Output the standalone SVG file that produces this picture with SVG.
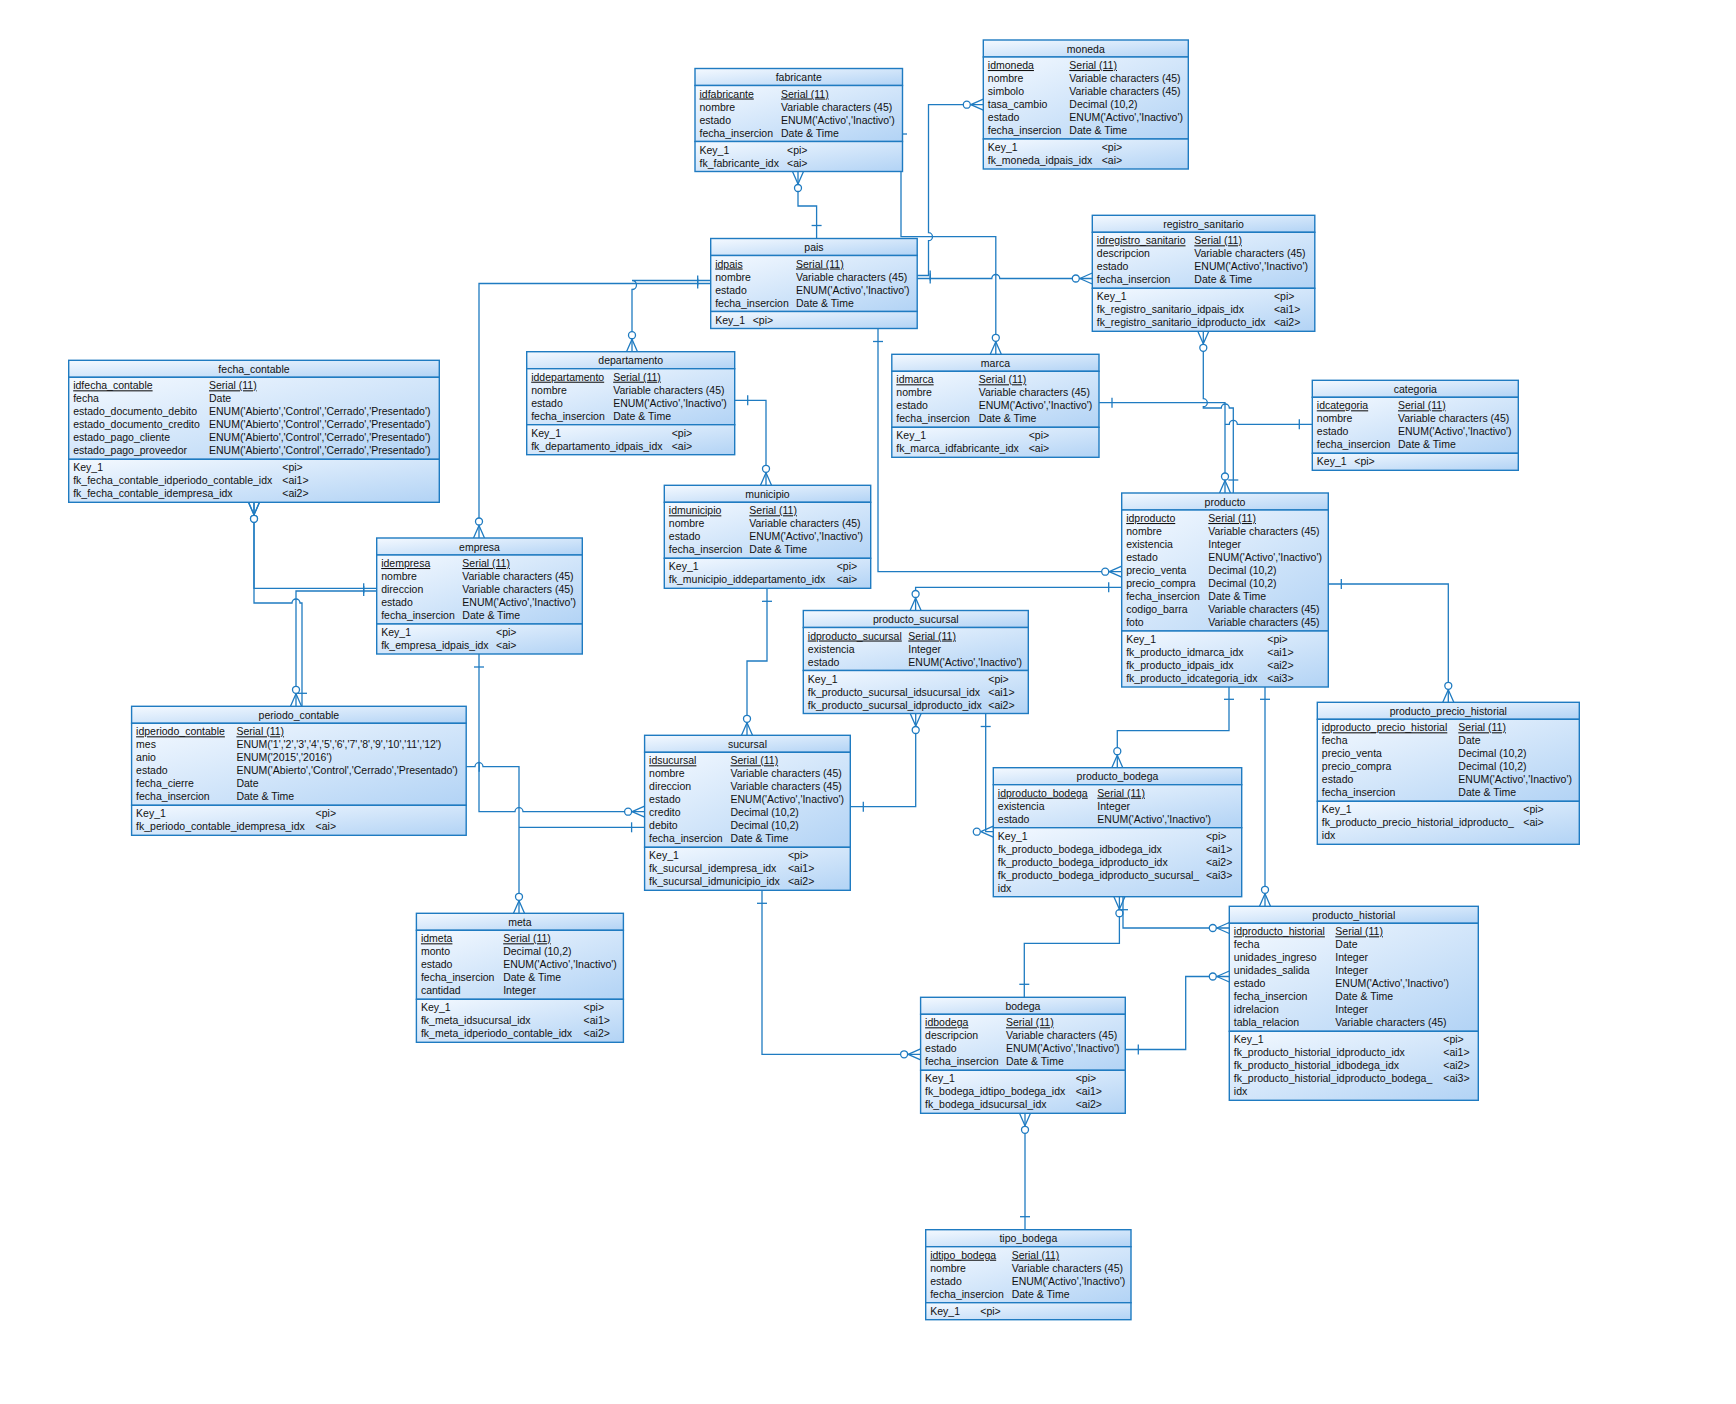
<svg xmlns="http://www.w3.org/2000/svg" width="1736" height="1404" viewBox="0 0 1736 1404">
<defs>
<linearGradient id="g" x1="0" y1="0" x2="1" y2="1"><stop offset="0" stop-color="#f4f9ff"/><stop offset="1" stop-color="#b2d3f5"/></linearGradient>
<marker id="one" markerUnits="userSpaceOnUse" orient="auto-start-reverse" overflow="visible" markerWidth="40" markerHeight="40" refX="0" refY="0"><path d="M-13,-5V5" stroke="#1f7bc1" stroke-width="1.3" fill="none"/></marker>
<marker id="many" markerUnits="userSpaceOnUse" orient="auto-start-reverse" overflow="visible" markerWidth="40" markerHeight="40" refX="0" refY="0"><path d="M-12.5,0L0,-5.5M-12.5,0L0,5.5" stroke="#1f7bc1" stroke-width="1.3" fill="none"/><circle cx="-16.5" cy="0" r="3.5" fill="#fff" stroke="#1f7bc1" stroke-width="1.3"/></marker>
</defs>
<style>
.b rect{fill:url(#g);stroke:#1f7bc1;stroke-width:1.4}
text{font-family:"Liberation Sans",Arial,sans-serif;font-size:10.5px;fill:#111}
.tt{text-anchor:middle}
.pk{text-decoration:underline}
#connectors path{fill:none;stroke:#1f7bc1;stroke-width:1.3}
.r{marker-start:url(#one);marker-end:url(#many)}
.s{marker-start:url(#one)}
.e{marker-end:url(#many)}
</style>
<rect width="1736" height="1404" fill="#fff"/>

<g id="connectors">
<path class="r" d="M816.6,238.5V206H798V171.5"/>
<path class="e" d="M901,171.5V236.7H995.8V354.3"/>
<path d="M902.3,134H907"/>
<path class="r" d="M917.2,275.5H928.5V240.7a4,4 0 0 0 0,-8V104.7H983.3"/>
<path class="r" d="M917.2,278.5H991.8a4,4 0 0 1 8,0H1092.3"/>
<path class="r" d="M710.7,280.5H632a4.5,4.5 0 0 1 0,9V351.7"/>
<path class="r" d="M710.7,283.5H479V538"/>
<path class="r" d="M878,328.5V571.7H1121.7"/>
<path class="r" d="M734.7,400.3H766V485.3"/>
<path class="r" d="M767,588.3V661H747V735.3"/>
<path class="r" d="M479,654V811.7H515a4,4 0 0 1 8,0H644.6"/>
<path class="r" d="M466.2,766.7H475a4,4 0 0 1 8,0H519V913.3"/>
<path class="s" d="M644.6,827.3H519"/>
<path class="r" d="M376.7,588.3H254V502.3"/>
<path class="r" d="M302,706.3V603H300a4,4 0 0 0 -8,0H254V502.3"/>
<path class="r" d="M376.7,591H296V706.3"/>
<path class="r" d="M850.3,806.7H915.7V713.5"/>
<path class="r" d="M1121.7,587.3H915.6V610.5"/>
<path class="r" d="M985.7,713.5V831.7H993.3"/>
<path class="r" d="M1229,686.3V730.7H1117.3V767.7"/>
<path class="r" d="M1265,686.3V906.3"/>
<path class="r" d="M1328.3,584H1448.3V702.3"/>
<path class="r" d="M1025,1229.7V1113.3"/>
<path class="r" d="M762,890.3V1054.3H920.6"/>
<path class="r" d="M1125.3,1049.5H1185.7V976.5H1229.3"/>
<path class="r" d="M1024.3,997.3V943.3H1119.4V896.7"/>
<path class="r" d="M1123,896.7V928H1229.3"/>
<path class="r" d="M1099,402.7H1225V493"/>
<path class="s" d="M1312.3,424.3H1237.3a4,4 0 0 0 -8,0H1225"/>
<path class="r" d="M1233.3,493V408H1229.3a4,4 0 0 0 -8,0H1203.3V406.7a4,4 0 0 0 0,-8V331.3"/>
</g>

<g id="fabricante" class="b" transform="translate(695,68.5)">
<rect width="207.5" height="17"/><rect y="17" width="207.5" height="56"/><rect y="73" width="207.5" height="30"/>
<text class="tt" x="103.75" y="12.5">fabricante</text>
<text x="4.5" y="29" class="pk">idfabricante</text><text x="86" y="29" class="pk">Serial (11)</text>
<text x="4.5" y="42">nombre</text><text x="86" y="42">Variable characters (45)</text>
<text x="4.5" y="55">estado</text><text x="86" y="55">ENUM('Activo','Inactivo')</text>
<text x="4.5" y="68">fecha_insercion</text><text x="86" y="68">Date &amp; Time</text>
<text x="4.5" y="85">Key_1</text><text x="92" y="85">&lt;pi&gt;</text>
<text x="4.5" y="98">fk_fabricante_idx</text><text x="92" y="98">&lt;ai&gt;</text>
</g>

<g id="moneda" class="b" transform="translate(983.3,40)">
<rect width="205" height="17"/><rect y="17" width="205" height="82"/><rect y="99" width="205" height="30"/>
<text class="tt" x="102.5" y="12.5">moneda</text>
<text x="4.5" y="29" class="pk">idmoneda</text><text x="86" y="29" class="pk">Serial (11)</text>
<text x="4.5" y="42">nombre</text><text x="86" y="42">Variable characters (45)</text>
<text x="4.5" y="55">simbolo</text><text x="86" y="55">Variable characters (45)</text>
<text x="4.5" y="68">tasa_cambio</text><text x="86" y="68">Decimal (10,2)</text>
<text x="4.5" y="81">estado</text><text x="86" y="81">ENUM('Activo','Inactivo')</text>
<text x="4.5" y="94">fecha_insercion</text><text x="86" y="94">Date &amp; Time</text>
<text x="4.5" y="111">Key_1</text><text x="118.4" y="111">&lt;pi&gt;</text>
<text x="4.5" y="124">fk_moneda_idpais_idx</text><text x="118.4" y="124">&lt;ai&gt;</text>
</g>

<g id="pais" class="b" transform="translate(710.7,238.5)">
<rect width="206.5" height="17"/><rect y="17" width="206.5" height="56"/><rect y="73" width="206.5" height="17"/>
<text class="tt" x="103.25" y="12.5">pais</text>
<text x="4.5" y="29" class="pk">idpais</text><text x="85.3" y="29" class="pk">Serial (11)</text>
<text x="4.5" y="42">nombre</text><text x="85.3" y="42">Variable characters (45)</text>
<text x="4.5" y="55">estado</text><text x="85.3" y="55">ENUM('Activo','Inactivo')</text>
<text x="4.5" y="68">fecha_insercion</text><text x="85.3" y="68">Date &amp; Time</text>
<text x="4.5" y="85">Key_1</text><text x="42" y="85">&lt;pi&gt;</text>
</g>

<g id="registro_sanitario" class="b" transform="translate(1092.3,215.3)">
<rect width="222.5" height="17"/><rect y="17" width="222.5" height="56"/><rect y="73" width="222.5" height="43"/>
<text class="tt" x="111.25" y="12.5">registro_sanitario</text>
<text x="4.5" y="29" class="pk">idregistro_sanitario</text><text x="102" y="29" class="pk">Serial (11)</text>
<text x="4.5" y="42">descripcion</text><text x="102" y="42">Variable characters (45)</text>
<text x="4.5" y="55">estado</text><text x="102" y="55">ENUM('Activo','Inactivo')</text>
<text x="4.5" y="68">fecha_insercion</text><text x="102" y="68">Date &amp; Time</text>
<text x="4.5" y="85">Key_1</text><text x="181.7" y="85">&lt;pi&gt;</text>
<text x="4.5" y="98">fk_registro_sanitario_idpais_idx</text><text x="181.7" y="98">&lt;ai1&gt;</text>
<text x="4.5" y="111">fk_registro_sanitario_idproducto_idx</text><text x="181.7" y="111">&lt;ai2&gt;</text>
</g>

<g id="fecha_contable" class="b" transform="translate(68.7,360.3)">
<rect width="370.6" height="17"/><rect y="17" width="370.6" height="82"/><rect y="99" width="370.6" height="43"/>
<text class="tt" x="185.3" y="12.5">fecha_contable</text>
<text x="4.5" y="29" class="pk">idfecha_contable</text><text x="140.3" y="29" class="pk">Serial (11)</text>
<text x="4.5" y="42">fecha</text><text x="140.3" y="42">Date</text>
<text x="4.5" y="55">estado_documento_debito</text><text x="140.3" y="55">ENUM('Abierto','Control','Cerrado','Presentado')</text>
<text x="4.5" y="68">estado_documento_credito</text><text x="140.3" y="68">ENUM('Abierto','Control','Cerrado','Presentado')</text>
<text x="4.5" y="81">estado_pago_cliente</text><text x="140.3" y="81">ENUM('Abierto','Control','Cerrado','Presentado')</text>
<text x="4.5" y="94">estado_pago_proveedor</text><text x="140.3" y="94">ENUM('Abierto','Control','Cerrado','Presentado')</text>
<text x="4.5" y="111">Key_1</text><text x="213.6" y="111">&lt;pi&gt;</text>
<text x="4.5" y="124">fk_fecha_contable_idperiodo_contable_idx</text><text x="213.6" y="124">&lt;ai1&gt;</text>
<text x="4.5" y="137">fk_fecha_contable_idempresa_idx</text><text x="213.6" y="137">&lt;ai2&gt;</text>
</g>

<g id="departamento" class="b" transform="translate(526.7,351.7)">
<rect width="208" height="17"/><rect y="17" width="208" height="56"/><rect y="73" width="208" height="30"/>
<text class="tt" x="104" y="12.5">departamento</text>
<text x="4.5" y="29" class="pk">iddepartamento</text><text x="86.5" y="29" class="pk">Serial (11)</text>
<text x="4.5" y="42">nombre</text><text x="86.5" y="42">Variable characters (45)</text>
<text x="4.5" y="55">estado</text><text x="86.5" y="55">ENUM('Activo','Inactivo')</text>
<text x="4.5" y="68">fecha_insercion</text><text x="86.5" y="68">Date &amp; Time</text>
<text x="4.5" y="85">Key_1</text><text x="145" y="85">&lt;pi&gt;</text>
<text x="4.5" y="98">fk_departamento_idpais_idx</text><text x="145" y="98">&lt;ai&gt;</text>
</g>

<g id="marca" class="b" transform="translate(891.8,354.3)">
<rect width="207.2" height="17"/><rect y="17" width="207.2" height="56"/><rect y="73" width="207.2" height="30"/>
<text class="tt" x="103.6" y="12.5">marca</text>
<text x="4.5" y="29" class="pk">idmarca</text><text x="86.9" y="29" class="pk">Serial (11)</text>
<text x="4.5" y="42">nombre</text><text x="86.9" y="42">Variable characters (45)</text>
<text x="4.5" y="55">estado</text><text x="86.9" y="55">ENUM('Activo','Inactivo')</text>
<text x="4.5" y="68">fecha_insercion</text><text x="86.9" y="68">Date &amp; Time</text>
<text x="4.5" y="85">Key_1</text><text x="136.9" y="85">&lt;pi&gt;</text>
<text x="4.5" y="98">fk_marca_idfabricante_idx</text><text x="136.9" y="98">&lt;ai&gt;</text>
</g>

<g id="categoria" class="b" transform="translate(1312.3,380.3)">
<rect width="206" height="17"/><rect y="17" width="206" height="56"/><rect y="73" width="206" height="17"/>
<text class="tt" x="103" y="12.5">categoria</text>
<text x="4.5" y="29" class="pk">idcategoria</text><text x="85.7" y="29" class="pk">Serial (11)</text>
<text x="4.5" y="42">nombre</text><text x="85.7" y="42">Variable characters (45)</text>
<text x="4.5" y="55">estado</text><text x="85.7" y="55">ENUM('Activo','Inactivo')</text>
<text x="4.5" y="68">fecha_insercion</text><text x="85.7" y="68">Date &amp; Time</text>
<text x="4.5" y="85">Key_1</text><text x="42" y="85">&lt;pi&gt;</text>
</g>

<g id="producto" class="b" transform="translate(1121.7,493)">
<rect width="206.6" height="17"/><rect y="17" width="206.6" height="121"/><rect y="138" width="206.6" height="56"/>
<text class="tt" x="103.3" y="12.5">producto</text>
<text x="4.5" y="29" class="pk">idproducto</text><text x="86.6" y="29" class="pk">Serial (11)</text>
<text x="4.5" y="42">nombre</text><text x="86.6" y="42">Variable characters (45)</text>
<text x="4.5" y="55">existencia</text><text x="86.6" y="55">Integer</text>
<text x="4.5" y="68">estado</text><text x="86.6" y="68">ENUM('Activo','Inactivo')</text>
<text x="4.5" y="81">precio_venta</text><text x="86.6" y="81">Decimal (10,2)</text>
<text x="4.5" y="94">precio_compra</text><text x="86.6" y="94">Decimal (10,2)</text>
<text x="4.5" y="107">fecha_insercion</text><text x="86.6" y="107">Date &amp; Time</text>
<text x="4.5" y="120">codigo_barra</text><text x="86.6" y="120">Variable characters (45)</text>
<text x="4.5" y="133">foto</text><text x="86.6" y="133">Variable characters (45)</text>
<text x="4.5" y="150">Key_1</text><text x="145.6" y="150">&lt;pi&gt;</text>
<text x="4.5" y="163">fk_producto_idmarca_idx</text><text x="145.6" y="163">&lt;ai1&gt;</text>
<text x="4.5" y="176">fk_producto_idpais_idx</text><text x="145.6" y="176">&lt;ai2&gt;</text>
<text x="4.5" y="189">fk_producto_idcategoria_idx</text><text x="145.6" y="189">&lt;ai3&gt;</text>
</g>

<g id="empresa" class="b" transform="translate(376.7,538)">
<rect width="205.6" height="17"/><rect y="17" width="205.6" height="69"/><rect y="86" width="205.6" height="30"/>
<text class="tt" x="102.8" y="12.5">empresa</text>
<text x="4.5" y="29" class="pk">idempresa</text><text x="85.6" y="29" class="pk">Serial (11)</text>
<text x="4.5" y="42">nombre</text><text x="85.6" y="42">Variable characters (45)</text>
<text x="4.5" y="55">direccion</text><text x="85.6" y="55">Variable characters (45)</text>
<text x="4.5" y="68">estado</text><text x="85.6" y="68">ENUM('Activo','Inactivo')</text>
<text x="4.5" y="81">fecha_insercion</text><text x="85.6" y="81">Date &amp; Time</text>
<text x="4.5" y="98">Key_1</text><text x="119.3" y="98">&lt;pi&gt;</text>
<text x="4.5" y="111">fk_empresa_idpais_idx</text><text x="119.3" y="111">&lt;ai&gt;</text>
</g>

<g id="municipio" class="b" transform="translate(664.3,485.3)">
<rect width="206.4" height="17"/><rect y="17" width="206.4" height="56"/><rect y="73" width="206.4" height="30"/>
<text class="tt" x="103.2" y="12.5">municipio</text>
<text x="4.5" y="29" class="pk">idmunicipio</text><text x="85" y="29" class="pk">Serial (11)</text>
<text x="4.5" y="42">nombre</text><text x="85" y="42">Variable characters (45)</text>
<text x="4.5" y="55">estado</text><text x="85" y="55">ENUM('Activo','Inactivo')</text>
<text x="4.5" y="68">fecha_insercion</text><text x="85" y="68">Date &amp; Time</text>
<text x="4.5" y="85">Key_1</text><text x="172.4" y="85">&lt;pi&gt;</text>
<text x="4.5" y="98">fk_municipio_iddepartamento_idx</text><text x="172.4" y="98">&lt;ai&gt;</text>
</g>

<g id="periodo_contable" class="b" transform="translate(131.6,706.3)">
<rect width="334.6" height="17"/><rect y="17" width="334.6" height="82"/><rect y="99" width="334.6" height="30"/>
<text class="tt" x="167.3" y="12.5">periodo_contable</text>
<text x="4.5" y="29" class="pk">idperiodo_contable</text><text x="104.8" y="29" class="pk">Serial (11)</text>
<text x="4.5" y="42">mes</text><text x="104.8" y="42">ENUM('1','2','3','4','5','6','7','8','9','10','11','12')</text>
<text x="4.5" y="55">anio</text><text x="104.8" y="55">ENUM('2015','2016')</text>
<text x="4.5" y="68">estado</text><text x="104.8" y="68">ENUM('Abierto','Control','Cerrado','Presentado')</text>
<text x="4.5" y="81">fecha_cierre</text><text x="104.8" y="81">Date</text>
<text x="4.5" y="94">fecha_insercion</text><text x="104.8" y="94">Date &amp; Time</text>
<text x="4.5" y="111">Key_1</text><text x="184" y="111">&lt;pi&gt;</text>
<text x="4.5" y="124">fk_periodo_contable_idempresa_idx</text><text x="184" y="124">&lt;ai&gt;</text>
</g>

<g id="sucursal" class="b" transform="translate(644.6,735.3)">
<rect width="205.7" height="17"/><rect y="17" width="205.7" height="95"/><rect y="112" width="205.7" height="43"/>
<text class="tt" x="102.85" y="12.5">sucursal</text>
<text x="4.5" y="29" class="pk">idsucursal</text><text x="85.9" y="29" class="pk">Serial (11)</text>
<text x="4.5" y="42">nombre</text><text x="85.9" y="42">Variable characters (45)</text>
<text x="4.5" y="55">direccion</text><text x="85.9" y="55">Variable characters (45)</text>
<text x="4.5" y="68">estado</text><text x="85.9" y="68">ENUM('Activo','Inactivo')</text>
<text x="4.5" y="81">credito</text><text x="85.9" y="81">Decimal (10,2)</text>
<text x="4.5" y="94">debito</text><text x="85.9" y="94">Decimal (10,2)</text>
<text x="4.5" y="107">fecha_insercion</text><text x="85.9" y="107">Date &amp; Time</text>
<text x="4.5" y="124">Key_1</text><text x="143.4" y="124">&lt;pi&gt;</text>
<text x="4.5" y="137">fk_sucursal_idempresa_idx</text><text x="143.4" y="137">&lt;ai1&gt;</text>
<text x="4.5" y="150">fk_sucursal_idmunicipio_idx</text><text x="143.4" y="150">&lt;ai2&gt;</text>
</g>

<g id="producto_sucursal" class="b" transform="translate(803.3,610.5)">
<rect width="225" height="17"/><rect y="17" width="225" height="43"/><rect y="60" width="225" height="43"/>
<text class="tt" x="112.5" y="12.5">producto_sucursal</text>
<text x="4.5" y="29" class="pk">idproducto_sucursal</text><text x="105" y="29" class="pk">Serial (11)</text>
<text x="4.5" y="42">existencia</text><text x="105" y="42">Integer</text>
<text x="4.5" y="55">estado</text><text x="105" y="55">ENUM('Activo','Inactivo')</text>
<text x="4.5" y="72">Key_1</text><text x="185" y="72">&lt;pi&gt;</text>
<text x="4.5" y="85">fk_producto_sucursal_idsucursal_idx</text><text x="185" y="85">&lt;ai1&gt;</text>
<text x="4.5" y="98">fk_producto_sucursal_idproducto_idx</text><text x="185" y="98">&lt;ai2&gt;</text>
</g>

<g id="producto_bodega" class="b" transform="translate(993.3,767.7)">
<rect width="248.4" height="17"/><rect y="17" width="248.4" height="43"/><rect y="60" width="248.4" height="69"/>
<text class="tt" x="124.2" y="12.5">producto_bodega</text>
<text x="4.5" y="29" class="pk">idproducto_bodega</text><text x="104" y="29" class="pk">Serial (11)</text>
<text x="4.5" y="42">existencia</text><text x="104" y="42">Integer</text>
<text x="4.5" y="55">estado</text><text x="104" y="55">ENUM('Activo','Inactivo')</text>
<text x="4.5" y="72">Key_1</text><text x="212.7" y="72">&lt;pi&gt;</text>
<text x="4.5" y="85">fk_producto_bodega_idbodega_idx</text><text x="212.7" y="85">&lt;ai1&gt;</text>
<text x="4.5" y="98">fk_producto_bodega_idproducto_idx</text><text x="212.7" y="98">&lt;ai2&gt;</text>
<text x="4.5" y="111">fk_producto_bodega_idproducto_sucursal_</text><text x="212.7" y="111">&lt;ai3&gt;</text>
<text x="4.5" y="124">idx</text>
</g>

<g id="producto_precio_historial" class="b" transform="translate(1317.3,702.3)">
<rect width="262" height="17"/><rect y="17" width="262" height="82"/><rect y="99" width="262" height="43"/>
<text class="tt" x="131" y="12.5">producto_precio_historial</text>
<text x="4.5" y="29" class="pk">idproducto_precio_historial</text><text x="141" y="29" class="pk">Serial (11)</text>
<text x="4.5" y="42">fecha</text><text x="141" y="42">Date</text>
<text x="4.5" y="55">precio_venta</text><text x="141" y="55">Decimal (10,2)</text>
<text x="4.5" y="68">precio_compra</text><text x="141" y="68">Decimal (10,2)</text>
<text x="4.5" y="81">estado</text><text x="141" y="81">ENUM('Activo','Inactivo')</text>
<text x="4.5" y="94">fecha_insercion</text><text x="141" y="94">Date &amp; Time</text>
<text x="4.5" y="111">Key_1</text><text x="206" y="111">&lt;pi&gt;</text>
<text x="4.5" y="124">fk_producto_precio_historial_idproducto_</text><text x="206" y="124">&lt;ai&gt;</text>
<text x="4.5" y="137">idx</text>
</g>

<g id="producto_historial" class="b" transform="translate(1229.3,906.3)">
<rect width="249" height="17"/><rect y="17" width="249" height="108"/><rect y="125" width="249" height="69"/>
<text class="tt" x="124.5" y="12.5">producto_historial</text>
<text x="4.5" y="29" class="pk">idproducto_historial</text><text x="106" y="29" class="pk">Serial (11)</text>
<text x="4.5" y="42">fecha</text><text x="106" y="42">Date</text>
<text x="4.5" y="55">unidades_ingreso</text><text x="106" y="55">Integer</text>
<text x="4.5" y="68">unidades_salida</text><text x="106" y="68">Integer</text>
<text x="4.5" y="81">estado</text><text x="106" y="81">ENUM('Activo','Inactivo')</text>
<text x="4.5" y="94">fecha_insercion</text><text x="106" y="94">Date &amp; Time</text>
<text x="4.5" y="107">idrelacion</text><text x="106" y="107">Integer</text>
<text x="4.5" y="120">tabla_relacion</text><text x="106" y="120">Variable characters (45)</text>
<text x="4.5" y="137">Key_1</text><text x="214" y="137">&lt;pi&gt;</text>
<text x="4.5" y="150">fk_producto_historial_idproducto_idx</text><text x="214" y="150">&lt;ai1&gt;</text>
<text x="4.5" y="163">fk_producto_historial_idbodega_idx</text><text x="214" y="163">&lt;ai2&gt;</text>
<text x="4.5" y="176">fk_producto_historial_idproducto_bodega_</text><text x="214" y="176">&lt;ai3&gt;</text>
<text x="4.5" y="189">idx</text>
</g>

<g id="meta" class="b" transform="translate(416.4,913.3)">
<rect width="207" height="17"/><rect y="17" width="207" height="69"/><rect y="86" width="207" height="43"/>
<text class="tt" x="103.5" y="12.5">meta</text>
<text x="4.5" y="29" class="pk">idmeta</text><text x="86.8" y="29" class="pk">Serial (11)</text>
<text x="4.5" y="42">monto</text><text x="86.8" y="42">Decimal (10,2)</text>
<text x="4.5" y="55">estado</text><text x="86.8" y="55">ENUM('Activo','Inactivo')</text>
<text x="4.5" y="68">fecha_insercion</text><text x="86.8" y="68">Date &amp; Time</text>
<text x="4.5" y="81">cantidad</text><text x="86.8" y="81">Integer</text>
<text x="4.5" y="98">Key_1</text><text x="167.2" y="98">&lt;pi&gt;</text>
<text x="4.5" y="111">fk_meta_idsucursal_idx</text><text x="167.2" y="111">&lt;ai1&gt;</text>
<text x="4.5" y="124">fk_meta_idperiodo_contable_idx</text><text x="167.2" y="124">&lt;ai2&gt;</text>
</g>

<g id="bodega" class="b" transform="translate(920.6,997.3)">
<rect width="204.7" height="17"/><rect y="17" width="204.7" height="56"/><rect y="73" width="204.7" height="43"/>
<text class="tt" x="102.35" y="12.5">bodega</text>
<text x="4.5" y="29" class="pk">idbodega</text><text x="85.4" y="29" class="pk">Serial (11)</text>
<text x="4.5" y="42">descripcion</text><text x="85.4" y="42">Variable characters (45)</text>
<text x="4.5" y="55">estado</text><text x="85.4" y="55">ENUM('Activo','Inactivo')</text>
<text x="4.5" y="68">fecha_insercion</text><text x="85.4" y="68">Date &amp; Time</text>
<text x="4.5" y="85">Key_1</text><text x="155.1" y="85">&lt;pi&gt;</text>
<text x="4.5" y="98">fk_bodega_idtipo_bodega_idx</text><text x="155.1" y="98">&lt;ai1&gt;</text>
<text x="4.5" y="111">fk_bodega_idsucursal_idx</text><text x="155.1" y="111">&lt;ai2&gt;</text>
</g>

<g id="tipo_bodega" class="b" transform="translate(925.7,1229.7)">
<rect width="205.3" height="17"/><rect y="17" width="205.3" height="56"/><rect y="73" width="205.3" height="17"/>
<text class="tt" x="102.65" y="12.5">tipo_bodega</text>
<text x="4.5" y="29" class="pk">idtipo_bodega</text><text x="86" y="29" class="pk">Serial (11)</text>
<text x="4.5" y="42">nombre</text><text x="86" y="42">Variable characters (45)</text>
<text x="4.5" y="55">estado</text><text x="86" y="55">ENUM('Activo','Inactivo')</text>
<text x="4.5" y="68">fecha_insercion</text><text x="86" y="68">Date &amp; Time</text>
<text x="4.5" y="85">Key_1</text><text x="54.6" y="85">&lt;pi&gt;</text>
</g>
</svg>
